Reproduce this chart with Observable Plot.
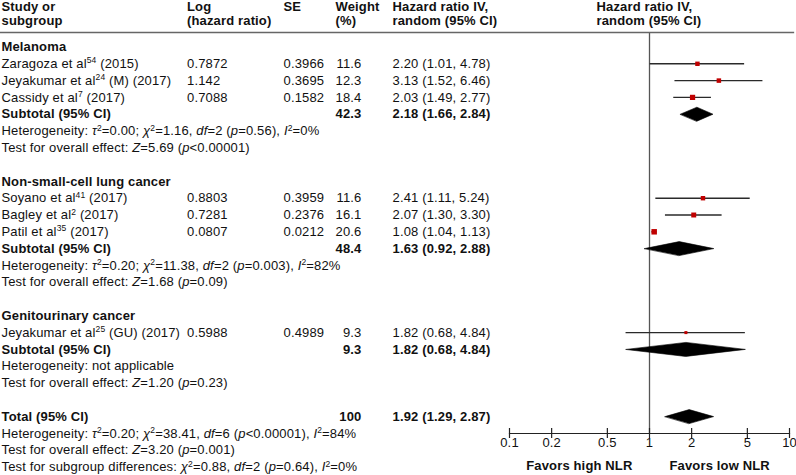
<!DOCTYPE html>
<html><head><meta charset="utf-8">
<script src="https://cdn.jsdelivr.net/npm/d3@7"></script>
<script src="https://cdn.jsdelivr.net/npm/@observablehq/plot@0.6"></script>
<style>body{margin:0;background:#fff}</style>
</head><body><div id="chart"></div>
<script>
// ---- data ----
const groups = ["Melanoma", "Non-small-cell lung cancer", "Genitourinary cancer"];
const studyGroup = [0, 0, 0, 1, 1, 1, 2];
const studyNames = [
  "Zaragoza et al^{54} (2015)",
  "Jeyakumar et al^{24} (M) (2017)",
  "Cassidy et al^{7} (2017)",
  "Soyano et al^{41} (2017)",
  "Bagley et al^{2} (2017)",
  "Patil et al^{35} (2017)",
  "Jeyakumar et al^{25} (GU) (2017)"
];
const logHR = [0.7872, 1.142, 0.7088, 0.8803, 0.7281, 0.0807, 0.5988];
const seVals = [0.3966, 0.3695, 0.1582, 0.3959, 0.2376, 0.0212, 0.4989];
const weights = [11.6, 12.3, 18.4, 11.6, 16.1, 20.6, 9.3];
const hr = [2.20, 3.13, 2.03, 2.41, 2.07, 1.08, 1.82];
const lo = [1.01, 1.52, 1.49, 1.11, 1.30, 1.04, 0.68];
const hi = [4.78, 6.46, 2.77, 5.24, 3.30, 1.13, 4.84];
const subWeight = [42.3, 48.4, 9.3];
const subHR = [2.18, 1.63, 1.82];
const subLo = [1.66, 0.92, 0.68];
const subHi = [2.84, 2.88, 4.84];
const subHet = [
  "Heterogeneity: *τ*^{2}=0.00; *χ*^{2}=1.16, *df*=2 (*p*=0.56), *I*^{2}=0%",
  "Heterogeneity: *τ*^{2}=0.20; *χ*^{2}=11.38, *df*=2 (*p*=0.003), *I*^{2}=82%",
  "Heterogeneity: not applicable"
];
const subTest = [
  "Test for overall effect: *Z*=5.69 (*p*<0.00001)",
  "Test for overall effect: *Z*=1.68 (*p*=0.09)",
  "Test for overall effect: *Z*=1.20 (*p*=0.23)"
];
const totalWeight = 100, totalHR = 1.92, totalLo = 1.29, totalHi = 2.87;
const totalNotes = [
  "Heterogeneity: *τ*^{2}=0.20; *χ*^{2}=38.41, *df*=6 (*p*<0.00001), *I*^{2}=84%",
  "Test for overall effect: *Z*=3.20 (*p*=0.001)",
  "Test for subgroup differences: *χ*^{2}=0.88, *df*=2 (*p*=0.64), *I*^{2}=0%"
];
const headerTexts = {
  study: "Study or\nsubgroup", log: "Log\n(hazard ratio)", se: "SE\n ",
  weightH: "Weight\n(%)", hr: "Hazard ratio IV,\nrandom (95% CI)", forest: "Hazard ratio IV,\nrandom (95% CI)"
};
const xTicks = [0.1, 0.2, 0.5, 1, 2, 5, 10];
const favorsLabels = ["Favors high NLR", "Favors low NLR"];
const nullValue = 1;

// ---- build rows ----
const f2 = d3.format(".2f");
const ciText = (e, l, h) => `${f2(e)} (${f2(l)}, ${f2(h)})`;
const cells = [], studies = [], summaries = [];
let r = 0;
groups.forEach((g, gi) => {
  cells.push({row: r, col: "study", text: g, bold: true}); r++;
  studyNames.forEach((n, i) => {
    if (studyGroup[i] !== gi) return;
    studies.push({row: r, hr: hr[i], lo: lo[i], hi: hi[i], w: weights[i]});
    cells.push({row: r, col: "study", text: n}, {row: r, col: "log", text: String(logHR[i])},
      {row: r, col: "se", text: String(seVals[i])}, {row: r, col: "weight", text: String(weights[i])},
      {row: r, col: "hr", text: ciText(hr[i], lo[i], hi[i])});
    r++;
  });
  cells.push({row: r, col: "study", text: "Subtotal (95% CI)", bold: true},
    {row: r, col: "weight", text: String(subWeight[gi]), bold: true},
    {row: r, col: "hr", text: ciText(subHR[gi], subLo[gi], subHi[gi]), bold: true});
  summaries.push({id: gi, row: r, hr: subHR[gi], lo: subLo[gi], hi: subHi[gi]});
  r++;
  cells.push({row: r, col: "study", text: subHet[gi]}); r++;
  cells.push({row: r, col: "study", text: subTest[gi]}); r++;
  r++;
});
cells.push({row: r, col: "study", text: "Total (95% CI)", bold: true},
  {row: r, col: "weight", text: String(totalWeight), bold: true},
  {row: r, col: "hr", text: ciText(totalHR, totalLo, totalHi), bold: true});
summaries.push({id: 9, row: r, hr: totalHR, lo: totalLo, hi: totalHi});
r++;
totalNotes.forEach(t => { cells.push({row: r, col: "study", text: t}); r++; });
const lastRow = r - 1;

const rowPx = 16.8, dh = 7 / rowPx;
const diamondPts = summaries.flatMap(s => [
  {id: s.id, x: s.lo, y: s.row}, {id: s.id, x: s.hr, y: s.row - dh},
  {id: s.id, x: s.hi, y: s.row}, {id: s.id, x: s.hr, y: s.row + dh}
]);

// ---- layout ----
const W = 796, H = 475, ML = 509, MR = 7, MT = 32, MB = 42;
const colLayout = {
  study: {dx: 1 - ML, anchor: "start"},
  log: {dx: 186.5 - ML, anchor: "start"},
  se: {dx: 283 - ML, anchor: "start"},
  weight: {dx: 361 - ML, anchor: "end"},
  weightH: {dx: 335 - ML, anchor: "start"},
  hr: {dx: 392 - ML, anchor: "start"},
  forest: {dx: 596 - ML, anchor: "start"}
};
const textMarks = [];
for (const [col, lay] of Object.entries(colLayout)) {
  for (const bold of [false, true]) {
    const data = cells.filter(c => c.col === col && !!c.bold === bold);
    if (!data.length) continue;
    textMarks.push(Plot.text(data, {y: "row", text: "text", frameAnchor: "left", lineAnchor: "middle", dx: lay.dx,
      textAnchor: lay.anchor, fontWeight: bold ? "bold" : "normal", fontSize: 13, fill: "#111"}));
  }
}
const headerCells = Object.entries(headerTexts).map(([col, text]) => ({col, text, row: -2}));
for (const h of headerCells) {
  const lay = colLayout[h.col];
  textMarks.push(Plot.text([h], {y: "row", text: "text", frameAnchor: "left", lineAnchor: "middle", dx: lay.dx,
    textAnchor: lay.anchor, fontWeight: "bold", fontSize: 13, lineHeight: 1.115, fill: "#111"}));
}

const chart = Plot.plot({
  width: W, height: H, marginLeft: ML, marginRight: MR, marginTop: MT, marginBottom: MB,
  x: {type: "log", domain: [0.1, 10], axis: null},
  y: {domain: [0, lastRow], range: [46.5, 46.5 + rowPx * lastRow], axis: null},
  r: {type: "linear", domain: [9.3, 11.6, 20.6], range: [1.7, 2.5, 3.1]},
  style: {fontFamily: "'Liberation Sans', Arial, Helvetica, sans-serif", fontSize: "13px", letterSpacing: "0.15px", background: "#fff", overflow: "visible"},
  marks: [
    Plot.ruleX([nullValue], {stroke: "#555", strokeWidth: 1.3}),
    Plot.frame({anchor: "top", insetLeft: -ML, insetRight: -4, stroke: "#666", strokeWidth: 1.3}),
    Plot.frame({anchor: "bottom", stroke: "#222", strokeWidth: 1.2}),
    Plot.ruleX(xTicks, {x: d => d, insetTop: H - MB - MT - 5, insetBottom: -5, stroke: "#222", strokeWidth: 1.2}),
    Plot.text(xTicks, {x: d => d, frameAnchor: "bottom", lineAnchor: "middle", dy: 9, text: d => String(d), fontSize: 13, fill: "#111"}),
    Plot.text([favorsLabels[0]], {x: () => nullValue, frameAnchor: "bottom", lineAnchor: "middle", dy: 32, dx: -17, textAnchor: "end", text: d => d, fontWeight: "bold", fontSize: 13, fill: "#111"}),
    Plot.text([favorsLabels[1]], {x: () => nullValue, frameAnchor: "bottom", lineAnchor: "middle", dy: 32, dx: 20, textAnchor: "start", text: d => d, fontWeight: "bold", fontSize: 13, fill: "#111"}),
    Plot.ruleY(studies, {y: "row", x1: "lo", x2: "hi", stroke: "#2a2a2a", strokeWidth: 1.4}),
    Plot.dot(studies, {x: "hr", y: "row", r: "w", symbol: "square", fill: "#c00000", stroke: "none"}),
    Plot.line(diamondPts, {x: "x", y: "y", z: "id", fill: "#000", stroke: "#000", strokeWidth: 0.6, curve: "linear-closed"}),
    ...textMarks
  ]
});

// rich text: ^{..} superscript, *..* italic
const NS = "http://www.w3.org/2000/svg";
chart.querySelectorAll("text").forEach(el => {
  if (el.querySelector("tspan")) return;
  const s = el.textContent;
  if (!/\^\{|\*/.test(s)) return;
  const parts = s.split(/(\^\{[^}]*\}|\*[^*]*\*)/).filter(p => p !== "");
  el.textContent = "";
  let shifted = false;
  for (const p of parts) {
    const t = document.createElementNS(NS, "tspan");
    if (p.startsWith("^{")) {
      t.textContent = p.slice(2, -1);
      t.setAttribute("font-size", "8.5");
      t.setAttribute("dy", shifted ? "0" : "-4.5");
      shifted = true;
    } else {
      const it = p.startsWith("*") && p.endsWith("*") && p.length > 1;
      t.textContent = it ? p.slice(1, -1) : p;
      if (it) t.setAttribute("font-style", "italic");
      if (shifted) { t.setAttribute("dy", "4.5"); shifted = false; }
    }
    el.appendChild(t);
  }
});
document.getElementById("chart").appendChild(chart);
</script>
</body></html>
